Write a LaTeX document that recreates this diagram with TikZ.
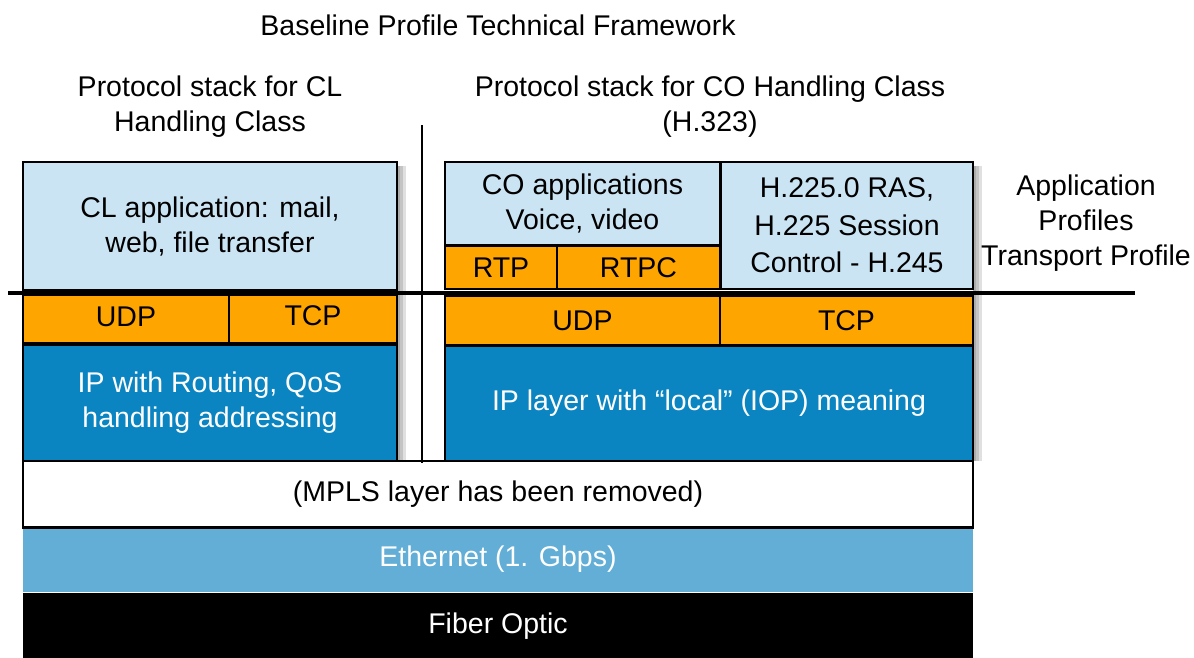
\documentclass[tikz,border=0pt]{standalone}
\usepackage{fontspec}
\setmainfont{Liberation Sans}
\definecolor{appblue}{HTML}{CBE4F3}
\definecolor{tporange}{HTML}{FFA500}
\definecolor{ipblue}{HTML}{0A85C2}
\definecolor{ethblue}{HTML}{62AED6}
\tikzset{
  layer/.style={draw=black, line width=1.6pt, inner sep=0pt, align=center,
    font=\fontsize{28.5}{35}\selectfont, text=black},
  app/.style={layer, fill=appblue},
  tport/.style={layer, fill=tporange},
  iplayer/.style={layer, fill=ipblue, text=white},
  caption/.style={align=center, font=\fontsize{28.5}{35}\selectfont, text=black},
  shade/.style={fill=black, opacity=0.12}
}
\begin{document}
\begin{tikzpicture}[x=1pt, y=-1pt]
\useasboundingbox (0,0) rectangle (1194,657);
\fill[white] (0,0) rectangle (1194,657);

% soft shadows on the right of both stacks
\foreach \d in {3,6,9}{
  \fill[shade] (397,166) rectangle (397+\d,461);
  \fill[shade] (973,166) rectangle (973+\d,461);
}

% headings
\node[caption] (title) at (498,25) {Baseline Profile Technical Framework};
\node[caption] (clhead) at (210,107) {Protocol stack for CL\\Handling Class};
\node[caption] (cohead) at (710,107) {Protocol stack for CO Handling Class\\(H.323)};
\node[caption] (profiles) at (1086,223) {Application\\Profiles\\Transport Profile};

% left stack: connectionless handling class
\node[app, minimum width=374, minimum height=128] (clapp) at (210,226)
  {CL application: mail,\\web, file transfer};
\node[tport, minimum width=206, minimum height=48] (ludp) at (126,319) {\raisebox{5pt}{UDP}};
\node[tport, minimum width=168, minimum height=48] (ltcp) at (313,319) {\raisebox{6pt}{TCP}};
\node[iplayer, minimum width=374, minimum height=116] (lip) at (210,403)
  {IP with Routing, QoS\\handling addressing};

% right stack: connection-oriented handling class
\node[app, minimum width=275, minimum height=83] (coapp) at (582.5,203.5)
  {CO applications\\Voice, video};
\node[tport, minimum width=112, minimum height=43] (rtp) at (501,267.5) {RTP};
\node[tport, minimum width=163, minimum height=43] (rtpc) at (638.5,267.5) {RTPC};
\node[app, minimum width=252, minimum height=127, font=\fontsize{28.5}{37.5}\selectfont] (h225) at (847,225.5)
  {H.225.0 RAS,\\H.225 Session\\Control - H.245};
\node[tport, minimum width=275, minimum height=49] (rudp) at (582.5,320.5) {UDP};
\node[tport, minimum width=253, minimum height=49] (rtcp) at (846.5,320.5) {TCP};
\node[iplayer, minimum width=528, minimum height=115] (rip) at (709,403.5)
  {\raisebox{-3pt}{IP layer with “local” (IOP) meaning}};

% shared lower layers
\node[layer, fill=white, minimum width=950, minimum height=66] (mpls) at (498,494)
  {(MPLS layer has been removed)};
\node[layer, draw=none, fill=ethblue, text=white, minimum width=950, minimum height=65] (eth) at (498,559.5)
  {Ethernet (1. Gbps)};
\node[layer, draw=none, fill=black, text=white, minimum width=950, minimum height=66] (fiber) at (498,626)
  {Fiber Optic};
\draw[line width=1.6pt] (mpls.south west) -- (mpls.south east);

% boundary between application and transport profiles
\coordinate (sepL) at (8,293);
\coordinate (sepR) at (1135,293);
\draw[line width=4.5pt] (sepL) -- (sepR);

% divider between the two stacks
\coordinate (divT) at (422,125);
\coordinate (divB) at (422,463);
\draw[line width=1.4pt] (divT) -- (divB);
\end{tikzpicture}
\end{document}
